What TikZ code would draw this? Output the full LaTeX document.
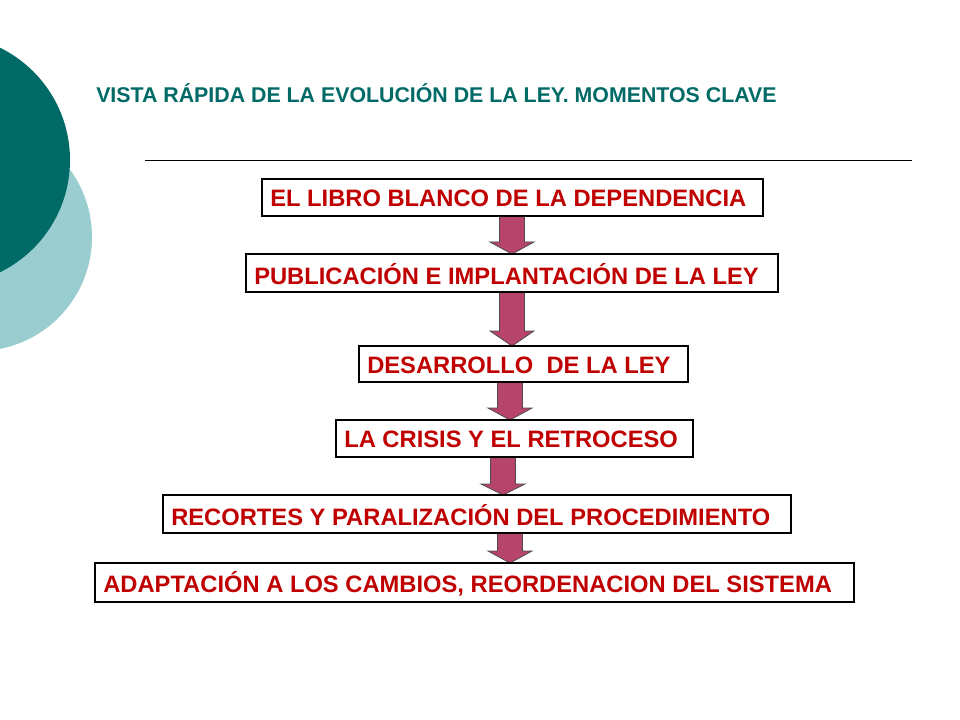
\documentclass[tikz,border=0pt]{standalone}
\usepackage{fontspec}
\setmainfont{Liberation Sans}
\definecolor{dteal}{HTML}{006A66}
\definecolor{lteal}{HTML}{99CDCF}
\definecolor{tred}{HTML}{C00000}
\definecolor{arr}{HTML}{B7446A}
\tikzset{frame/.style={draw=black,line width=0.8pt,fill=white},
txt/.style={anchor=west,inner sep=0pt,text=tred,font=\bfseries\fontsize{17.8}{17.8}\selectfont},
blk/.style={fill=arr,draw=black!70,line width=0.6pt}}
\newcommand{\bx}[6]{\draw[frame] (#2,#3) rectangle (#4,#5);
 \node[txt] (#1) at ({#2+8},{(#3+#5)/2+1}) {#6};}
\newcommand{\blockarrow}[4]{%
 \draw[blk] (#1-12.5,#2) -- (#1+12.5,#2) -- (#1+12.5,#4) -- (#1+22,#4) -- (#1,#3) -- (#1-22,#4) -- (#1-12.5,#4) -- cycle;}
\begin{document}
\begin{tikzpicture}[x=0.75pt,y=-0.75pt]
\useasboundingbox (0,0) rectangle (960,720);
\fill[lteal] (-22,237) circle (114);
\fill[dteal] (-55,160) circle (125);
\node[anchor=west,inner sep=0pt,text=dteal,font=\bfseries\fontsize{16}{16}\selectfont] (title) at (96,93) {VISTA RÁPIDA DE LA EVOLUCIÓN DE LA LEY. MOMENTOS CLAVE};
\draw[line width=0.6pt] (145,160) coordinate (l1) -- (912,160) coordinate (l2);
\blockarrow{512}{216}{254}{242}
\blockarrow{512}{292}{346}{331}
\blockarrow{510}{382}{420}{408}
\blockarrow{503}{457}{495}{484}
\blockarrow{510}{533}{563}{551}
\bx{a}{262}{179}{763}{216}{EL LIBRO BLANCO DE LA DEPENDENCIA}
\bx{b}{246}{254}{778}{292}{PUBLICACIÓN E IMPLANTACIÓN DE LA LEY}
\bx{c}{359}{346}{688}{382}{DESARROLLO\ \ DE LA LEY}
\bx{d}{336}{420}{693}{457}{LA CRISIS Y EL RETROCESO}
\bx{e}{163}{495}{791}{533}{RECORTES Y PARALIZACIÓN DEL PROCEDIMIENTO}
\bx{f}{95}{563}{854}{602}{ADAPTACIÓN A LOS CAMBIOS, REORDENACION DEL SISTEMA}
\end{tikzpicture}
\end{document}
